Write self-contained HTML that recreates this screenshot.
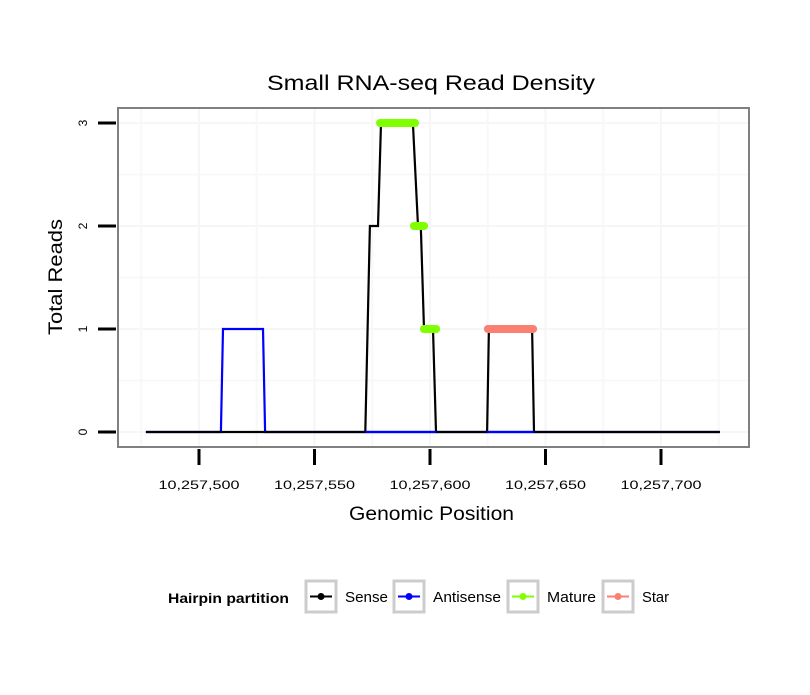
<!DOCTYPE html>
<html><head><meta charset="utf-8"><style>
body{margin:0;background:#fff;}
svg text{font-family:"Liberation Sans",sans-serif;}
</style></head><body>
<svg id="chart" width="810" height="690" viewBox="0 0 810 690" xmlns="http://www.w3.org/2000/svg">
<rect width="810" height="690" fill="#fff"/>
<text x="267" y="90" font-size="21" textLength="328" lengthAdjust="spacingAndGlyphs">Small RNA-seq Read Density</text>
<rect x="118" y="108" width="631" height="339" fill="#fff" stroke="#808080" stroke-width="2"/>
<g id="grid"></g>
<g id="series"></g>
<g id="axes"></g>
<text x="349" y="520" font-size="19" textLength="165" lengthAdjust="spacingAndGlyphs">Genomic Position</text>
<text transform="translate(62,335) rotate(-90)" font-size="19" textLength="116" lengthAdjust="spacingAndGlyphs">Total Reads</text>
<g>
<text x="168" y="603" font-size="14" font-weight="bold" textLength="121" lengthAdjust="spacingAndGlyphs">Hairpin partition</text>
<g id="legend-entries"></g>
</g>
</svg>
<script>
const xTicks=[10257500,10257550,10257600,10257650,10257700];
const yTicks=[0,1,2,3];
const senseX=[10257477,10257572,10257574,10257577.5,10257578.8,10257592.6,10257594.8,10257596,10257597.4,10257601.3,10257602.6,10257624.7,10257625.5,10257644.2,10257645,10257725.5];
const senseY=[0,0,2,2,3,3,2,2,1,1,0,0,1,1,0,0];
const antiX=[10257477,10257509.5,10257510.4,10257527.7,10257528.6,10257725.5];
const antiY=[0,0,1,1,0,0];
const matureStart=[10257577.5,10257592.2,10257596.5];
const matureEnd=[10257594.4,10257598.3,10257603.5];
const matureY=[3,2,1];
const starStart=[10257624.2];
const starEnd=[10257645.5];
const starY=[1];
const legendLabels=["Sense","Antisense","Mature","Star"];
const legendColors=["#000000","#0000ff","#7fff00","#fa8072"];
const legendWidths=[43,68,49,27];

const NS="http://www.w3.org/2000/svg";
const X=v=>199+(v-10257500)*2.31;
const Y=v=>432-v*103;
function mk(tag,attrs,parent){const e=document.createElementNS(NS,tag);for(const k in attrs)e.setAttribute(k,attrs[k]);parent.appendChild(e);return e;}
const grid=document.getElementById('grid'),series=document.getElementById('series'),axes=document.getElementById('axes');
for(let i=0;i<yTicks.length;i++){
 const g=mk('line',{x1:119,x2:748,y1:Y(yTicks[i]),y2:Y(yTicks[i]),stroke:'#f6f6f6','stroke-width':2},grid);
 
 
 if(i<yTicks.length-1){const m=mk('line',{x1:119,x2:748,y1:Y(yTicks[i]+0.5),y2:Y(yTicks[i]+0.5),stroke:'#f8f8f8','stroke-width':2},grid);
 
 }
}
for(let i=-1;i<xTicks.length;i++){
 if(i>=0){const g=mk('line',{x1:X(xTicks[i]),x2:X(xTicks[i]),y1:109,y2:446,stroke:'#f6f6f6','stroke-width':2},grid);
 
 }
 const mv=(i>=0?xTicks[i]:xTicks[0]-50)+25;
 const m=mk('line',{x1:X(mv),x2:X(mv),y1:109,y2:446,stroke:'#f8f8f8','stroke-width':2},grid);
 
 
}
function path(xs,ys){return xs.map((v,i)=>(i?'L':'M')+X(v).toFixed(1)+','+Y(ys[i]).toFixed(1)).join(' ');}
const a=mk('path',{d:path(antiX,antiY),fill:'none',stroke:'#0000ff','stroke-width':2.2},series);


const s=mk('path',{d:path(senseX,senseY),fill:'none',stroke:'#000','stroke-width':2.2},series);


const b=mk('path',{d:path([10257572,10257602.6],[0,0])+' '+path([10257624.7,10257645],[0,0]),fill:'none',stroke:'#0000ff','stroke-width':2.2},series);


for(let i=0;i<matureStart.length;i++){
 const m=mk('line',{x1:X(matureStart[i])+2,x2:X(matureEnd[i])-2,y1:Y(matureY[i]),y2:Y(matureY[i]),stroke:'#7fff00','stroke-width':8,'stroke-linecap':'round'},series);
 
 
}
for(let i=0;i<starStart.length;i++){
 const m=mk('line',{x1:X(starStart[i])+2,x2:X(starEnd[i])-2,y1:Y(starY[i]),y2:Y(starY[i]),stroke:'#fa8072','stroke-width':8,'stroke-linecap':'round'},series);
 
 
}
for(const t of yTicks){
 const l=mk('line',{x1:98,x2:116,y1:Y(t),y2:Y(t),stroke:'#000','stroke-width':3},axes);
 
 
 const tx=mk('text',{transform:`translate(87,${Y(t)}) rotate(-90)`,'font-size':12,'text-anchor':'middle'},axes);
 tx.textContent=t;
 
 
}
for(const t of xTicks){
 const l=mk('line',{x1:X(t),x2:X(t),y1:449,y2:465,stroke:'#000','stroke-width':3},axes);
 
 
 const tx=mk('text',{x:X(t)-40.5,y:489,'font-size':12,textLength:81,lengthAdjust:'spacingAndGlyphs'},axes);
 tx.textContent=t.toLocaleString('en-US');
 
 
}
const lg=document.getElementById('legend-entries');
const boxX=[306,394,508,603];
for(let i=0;i<legendLabels.length;i++){
 const g=mk('g',{},lg);
 
 
 mk('rect',{x:boxX[i],y:581,width:30,height:31,fill:'#fff',stroke:'#cccccc','stroke-width':3},g);
 mk('line',{x1:boxX[i]+4,x2:boxX[i]+26,y1:596.5,y2:596.5,stroke:legendColors[i],'stroke-width':2},g);
 mk('circle',{cx:boxX[i]+15,cy:596.5,r:3.5,fill:legendColors[i]},g);
 const t=mk('text',{x:boxX[i]+39,y:602,'font-size':14.5,textLength:legendWidths[i],lengthAdjust:'spacingAndGlyphs'},g);
 t.textContent=legendLabels[i];
}
</script>
</body></html>
